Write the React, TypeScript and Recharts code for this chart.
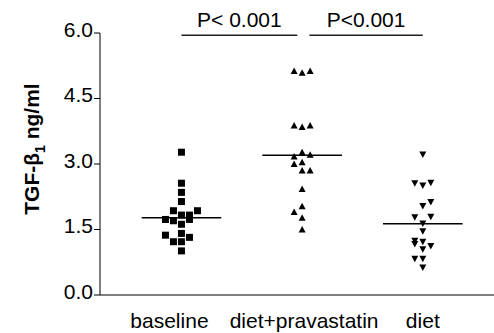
import React from 'react';
import { ScatterChart, Scatter, XAxis, YAxis, ReferenceLine } from 'recharts';

const categories = ['baseline', 'diet+pravastatin', 'diet'];
const yTicks = [0, 1.5, 3, 4.5, 6];

// TGF-b1 values per group, with jitter slot (-2..2) for the dot plot
const baselineValues = [3.27, 2.56, 2.35, 2.14, 1.93, 1.93, 1.83, 1.83, 1.73, 1.7, 1.73, 1.62, 1.41, 1.37, 1.32, 1.22, 1.22, 1.01];
const baselineSlots = [0, 0, 0, 0, -1, 2, 0, 1, -2, -1, 1, 0, 0, -2, 1, -1, 0, 0];
const pravaValues = [5.13, 5.09, 5.13, 3.88, 3.85, 3.88, 3.27, 3.21, 3.17, 3.04, 3.0, 2.85, 2.85, 2.43, 2.03, 1.9, 1.77, 1.5];
const pravaSlots = [-1, 0, 1, -1, 0, 1, 0, 1, -1, 0, -1, 0, 1, 0, 0, -1, 0, 0];
const dietValues = [3.22, 2.56, 2.51, 2.57, 2.04, 2.13, 1.78, 1.79, 1.64, 1.46, 1.24, 1.17, 1.22, 1.12, 1.05, 0.83, 0.83, 0.63];
const dietSlots = [0, -1, 0, 1, 0, 1, -1, 1, 0, 0, -1, -1, 0, 1, 0, -1, 0, 0];

const medians = [1.77, 3.2, 1.63];
const pLabels = ['P< 0.001', 'P<0.001'];

const JITTER = 0.0663;
const HALF = 0.33;
const FONT = 'Liberation Sans, Arial, sans-serif';

const toPoints = (cat: number, values: number[], slots: number[]) =>
  values.map((v, i) => ({ x: cat + slots[i] * JITTER, y: v }));

const baselineData = toPoints(1, baselineValues, baselineSlots);
const pravaData = toPoints(2, pravaValues, pravaSlots);
const dietData = toPoints(3, dietValues, dietSlots);

const Square = (p: any) => <rect x={p.cx - 3.5} y={p.cy - 3.5} width={7} height={7} fill="#000" />;
const TriUp = (p: any) => (
  <polygon points={`${p.cx - 3.5},${p.cy + 3} ${p.cx + 3.5},${p.cy + 3} ${p.cx},${p.cy - 3.5}`} fill="#000" />
);
const TriDown = (p: any) => (
  <polygon points={`${p.cx - 3.5},${p.cy - 3} ${p.cx + 3.5},${p.cy - 3} ${p.cx},${p.cy + 3.5}`} fill="#000" />
);

const XTick = (props: any) => {
  const { x, y, payload } = props;
  const shift = payload.value === 1 ? -12 : payload.value === 2 ? 2 : 0;
  return (
    <text x={x + shift} y={y} dy={15} textAnchor="middle" fontSize={21} fontFamily={FONT} fill="#000">
      {categories[payload.value - 1]}
    </text>
  );
};

const YTick = (props: any) => {
  const { x, y, payload } = props;
  return (
    <text x={x} y={y} dy={3.5} textAnchor="end" fontSize={21} fontFamily={FONT} fill="#000">
      {payload.value.toFixed(1)}
    </text>
  );
};

const YLabel = () => (
  <text
    x={39}
    y={149}
    transform="rotate(-90 39 149)"
    textAnchor="middle"
    fontSize={21}
    fontWeight="bold"
    fontFamily={FONT}
    fill="#000"
  >
    TGF-β
    <tspan dy={6} fontSize={14}>1</tspan>
    <tspan dy={-6}> ng/ml</tspan>
  </text>
);

export default function App() {
  return (
    <div style={{ position: 'absolute', left: 0, top: 0, background: '#fff' }}>
      <ScatterChart width={494} height={333} margin={{ top: 33, right: 0, left: 0, bottom: 0 }}>
        <XAxis
          type="number"
          dataKey="x"
          domain={[0.325, 3.59]}
          ticks={[1, 2, 3]}
          tickLine={false}
          tickSize={0}
          tickMargin={18}
          height={38}
          stroke="#000"
          tick={<XTick />}
          allowDataOverflow
        />
        <YAxis
          type="number"
          dataKey="y"
          domain={[0, 6]}
          ticks={yTicks}
          width={100}
          tickSize={6}
          tickMargin={1}
          stroke="#000"
          tick={<YTick />}
          label={<YLabel />}
        />
        {medians.map((m, i) => (
          <ReferenceLine
            key={i}
            segment={[{ x: i + 1 - HALF, y: m }, { x: i + 1 + HALF, y: m }]}
            stroke="#000"
            strokeWidth={1.5}
          />
        ))}
        {pLabels.map((t, i) => (
          <ReferenceLine
            key={t}
            segment={[{ x: i === 0 ? 1 : 2.06, y: 5.95 }, { x: i === 0 ? 1.96 : 3, y: 5.95 }]}
            stroke="#222"
            strokeWidth={1.5}
            label={{ value: t, position: 'top', offset: 8, fontSize: 21, fontFamily: FONT, fill: '#000' }}
          />
        ))}
        <Scatter data={baselineData} shape={<Square />} isAnimationActive={false} />
        <Scatter data={pravaData} shape={<TriUp />} isAnimationActive={false} />
        <Scatter data={dietData} shape={<TriDown />} isAnimationActive={false} />
      </ScatterChart>
    </div>
  );
}
